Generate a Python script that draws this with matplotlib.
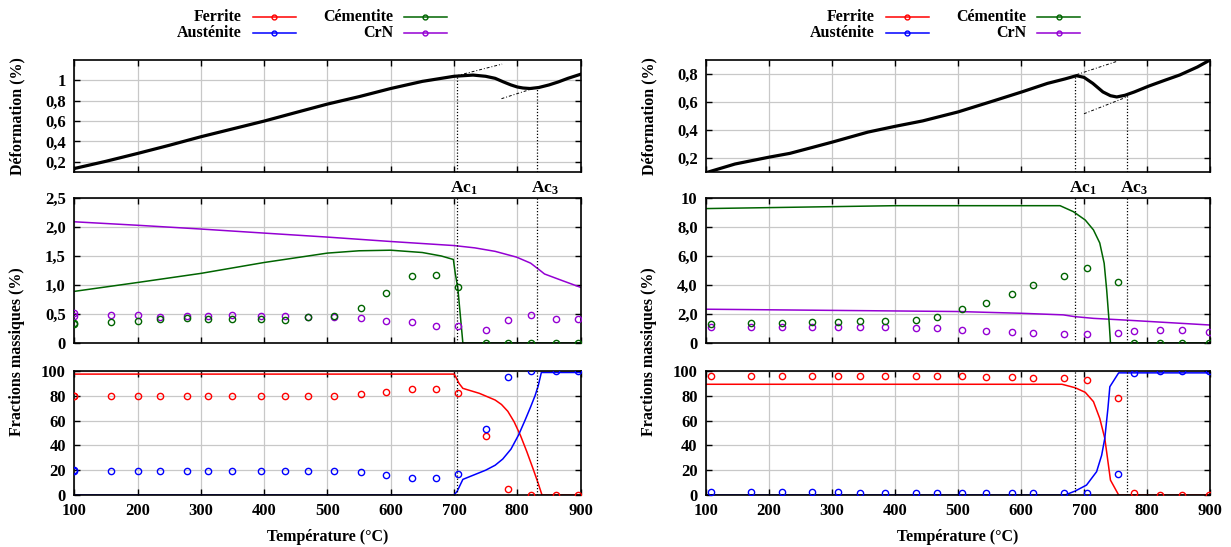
import numpy as np
import matplotlib
matplotlib.use('Agg')
import matplotlib.pyplot as plt
from matplotlib.lines import Line2D

plt.rcParams['font.family'] = 'Liberation Serif'
plt.rcParams['font.weight'] = 'bold'
plt.rcParams['font.size'] = 11.5
plt.rcParams['mathtext.fontset'] = 'custom'
plt.rcParams['mathtext.rm'] = 'Liberation Serif:bold'
plt.rcParams['mathtext.it'] = 'Liberation Serif:bold'
plt.rcParams['mathtext.bf'] = 'Liberation Serif:bold'

RED = '#ff0000'
BLUE = '#0000ff'
GREEN = '#006400'
PURPLE = '#9400d3'

temp_ticks = [100, 200, 300, 400, 500, 600, 700, 800, 900]
temp_labels = ['100', '200', '300', '400', '500', '600', '700', '800', '900']

# ---------- left column ----------
a_ac1 = 704
a_ac3 = 831

a_def_T = [100, 150, 200, 250, 300, 350, 400, 450, 500, 550, 600, 650, 700, 730,
           750, 765, 778, 790, 800, 809, 820, 834, 850, 865, 880, 900]
a_def = [0.134, 0.205, 0.282, 0.362, 0.446, 0.523, 0.600, 0.684, 0.767, 0.840, 0.920,
         0.990, 1.040, 1.052, 1.040, 1.020, 0.985, 0.955, 0.935, 0.925, 0.920, 0.930,
         0.955, 0.985, 1.020, 1.060]
a_tan_up_T = [704, 776]
a_tan_up = [1.045, 1.160]
a_tan_lo_T = [775, 830]
a_tan_lo = [0.820, 0.930]

a_crn_line_T = [100, 200, 300, 400, 500, 600, 700, 733, 765, 799, 821, 835, 843, 870, 900]
a_crn_line = [2.09, 2.03, 1.965, 1.895, 1.826, 1.75, 1.68, 1.64, 1.58, 1.48, 1.377, 1.26,
              1.19, 1.08, 0.96]
a_cem_line_T = [100, 200, 300, 400, 500, 550, 600, 650, 680, 699, 702, 706, 714, 900]
a_cem_line = [0.89, 1.043, 1.2, 1.388, 1.55, 1.59, 1.6, 1.56, 1.50, 1.44, 1.2, 0.95, 0, 0]

a_pts_T = [100, 100, 158, 201, 235, 278, 311, 350, 395, 433, 469, 511, 553, 592, 633,
           671, 707, 750, 786, 821, 861, 896]
a_crn_pts = [0.51, 0.47, 0.49, 0.478, 0.44, 0.467, 0.467, 0.49, 0.467, 0.467, 0.455,
             0.444, 0.438, 0.386, 0.357, 0.294, 0.30, 0.23, 0.40, 0.478, 0.42, 0.41]
a_cem_pts = [0.35, 0.32, 0.357, 0.38, 0.41, 0.43, 0.41, 0.415, 0.415, 0.40, 0.455,
             0.467, 0.605, 0.864, 1.152, 1.17, 0.962, 0, 0, 0, 0, 0]
a_fer_pts = [80, 79.5, 80, 80, 80, 80, 80, 80, 80, 80, 80, 80, 81.2, 83.3, 85.5, 85.5,
             82.2, 47.3, 4.8, 0, 0, 0]
a_aus_pts = [19.6, 19.8, 19.6, 19.6, 19.6, 19.6, 19.6, 19.6, 19.6, 19.6, 19.6, 19.6,
             18.5, 16.1, 13.7, 13.7, 17.2, 53.0, 95.4, 100, 100, 100]

a_fer_line_T = [100, 700, 703, 708, 714, 740, 765, 775, 785, 795, 805, 815, 825, 833,
                839, 900]
a_fer_line = [97.5, 97.5, 95, 90, 86, 82, 76.6, 73, 67.5, 59, 48, 35, 21, 9.4, 0, 0]
a_aus_line_T = [100, 700, 705, 714, 750, 765, 777, 790, 802, 812, 821, 828, 833, 838, 900]
a_aus_line = [0, 0, 3, 12.6, 20, 24, 29, 37, 48.4, 60, 71, 80, 88, 98.8, 98.8]

# ---------- right column ----------
b_ac1 = 686
b_ac3 = 768

b_def_T = [100, 146, 199, 233, 270, 300, 357, 400, 444, 500, 555, 602, 642, 670, 688,
           700, 714, 730, 742, 752, 765, 780, 803, 830, 852, 880, 900]
b_def = [0.095, 0.157, 0.205, 0.233, 0.277, 0.313, 0.385, 0.426, 0.465, 0.529, 0.606,
         0.673, 0.733, 0.765, 0.788, 0.776, 0.733, 0.672, 0.645, 0.636, 0.648, 0.672,
         0.714, 0.758, 0.793, 0.850, 0.900]
b_tan_up_T = [688, 752]
b_tan_up = [0.795, 0.890]
b_tan_lo_T = [700, 768]
b_tan_lo = [0.516, 0.636]

b_cem_line_T = [100, 400, 662, 683, 702, 715, 725, 732, 736, 740, 742, 900]
b_cem_line = [9.27, 9.47, 9.47, 9.06, 8.48, 7.8, 6.9, 5.5, 3.66, 1.38, 0, 0]
b_crn_line_T = [100, 500, 600, 667, 685, 715, 766, 900]
b_crn_line = [2.33, 2.17, 2.05, 1.94, 1.82, 1.70, 1.58, 1.24]

b_pts_T = [108, 171, 221, 268, 309, 345, 384, 433, 466, 507, 544, 586, 619, 668, 705,
           754, 779, 820, 856, 899]
b_cem_pts = [1.31, 1.36, 1.40, 1.47, 1.43, 1.54, 1.54, 1.59, 1.80, 2.32, 2.75, 3.39,
             4.0, 4.64, 5.17, 4.19, 0, 0, 0, 0]
b_crn_pts = [1.13, 1.13, 1.10, 1.10, 1.10, 1.10, 1.10, 1.06, 1.01, 0.90, 0.85, 0.73,
             0.67, 0.63, 0.63, 0.71, 0.85, 0.90, 0.88, 0.74]
b_fer_pts = [95.8, 95.8, 95.8, 95.8, 95.8, 95.8, 95.8, 95.8, 95.8, 95.6, 95.3, 95.0,
             94.5, 94.0, 93.0, 78.5, 1.3, 0, 0, 0]
b_aus_pts = [2.1, 2.1, 2.1, 2.1, 2.1, 1.9, 1.9, 1.7, 1.5, 1.4, 1.4, 1.3, 1.3, 1.5, 2.0,
             17.2, 98.4, 100, 100, 100]

b_fer_line_T = [100, 665, 686, 702, 715, 725, 733, 738, 742, 755, 900]
b_fer_line = [89.3, 89.3, 86.5, 82.8, 75.3, 61.8, 45.7, 27, 12, 0, 0]
b_aus_line_T = [100, 670, 686, 704, 720, 728, 733, 738, 741, 755, 900]
b_aus_line = [0, 0, 3.2, 8, 18.8, 32, 45.7, 70, 87.3, 98.5, 98.5]

# axis ticks / labels
a_def_ticks = [0.2, 0.4, 0.6, 0.8, 1.0]
a_def_labels = ['0,2', '0,4', '0,6', '0,8', '1']
b_def_ticks = [0.2, 0.4, 0.6, 0.8]
b_def_labels = ['0,2', '0,4', '0,6', '0,8']
a_mid_ticks = [0, 0.5, 1.0, 1.5, 2.0, 2.5]
a_mid_labels = ['0', '0,5', '1,0', '1,5', '2,0', '2,5']
b_mid_ticks = [0, 2, 4, 6, 8, 10]
b_mid_labels = ['0', '2,0', '4,0', '6,0', '8,0', '10']
frac_ticks = [0, 20, 40, 60, 80, 100]
frac_labels = ['0', '20', '40', '60', '80', '100']

legend_names = ['Ferrite', 'Austénite', 'Cémentite', 'CrN']
legend_colors = [RED, BLUE, GREEN, PURPLE]

W, H = 1231, 547
fig = plt.figure(figsize=(W / 100, H / 100), dpi=100)


def fx(px):
    return px / W


def fy(py):
    return 1 - py / H


def style(ax, ylim, yticks, ylabels, xlabels=False):
    ax.set_xlim(100, 900)
    ax.set_xticks(temp_ticks, temp_labels)
    ax.set_ylim(*ylim)
    ax.set_yticks(yticks, ylabels)
    ax.grid(True, color='#c8c8c8', lw=0.9)
    ax.set_axisbelow(True)
    ax.tick_params(direction='in', top=True, right=True, length=4, width=1,
                   labelsize=12, pad=6)
    for s in ax.spines.values():
        s.set_linewidth(1.2)
    if not xlabels:
        ax.tick_params(labelbottom=False)


def pts(ax, x, y, c):
    ax.plot(x, y, ls='none', marker='o', mfc='none', mec=c, ms=4.5, mew=1, zorder=4)


def column(x0, w, ac1, ac3, def_T, defo, tu_T, tu, tl_T, tl, def_lim, def_ticks, def_labels,
           cem_T, cem, crn_T, crn, mid_lim, mid_ticks, mid_labels, pT, p_cem, p_crn,
           fer_T, fer, aus_T, aus, p_fer, p_aus, lab_x):
    dot = (0, (1, 1.5))
    ax1 = fig.add_axes([x0, fy(172), w, 112 / H])
    ax2 = fig.add_axes([x0, fy(343), w, 145 / H])
    ax3 = fig.add_axes([x0, fy(495), w, 124 / H])

    # deformation
    style(ax1, def_lim, def_ticks, def_labels)
    ax1.plot(def_T, defo, color='black', lw=2.3, zorder=3)
    ax1.plot(tu_T, tu, color='black', lw=0.7, ls=(0, (3, 2, 1, 2)))
    ax1.plot(tl_T, tl, color='black', lw=0.7, ls=(0, (3, 2, 1, 2)))
    for ac in (ac1, ac3):
        ax1.plot([ac, ac], [def_lim[0], np.interp(ac, def_T, defo)], color='black',
                 lw=0.9, ls=dot)

    # cementite / CrN
    style(ax2, mid_lim, mid_ticks, mid_labels)
    ax2.plot(crn_T, crn, color=PURPLE, lw=1.1)
    ax2.plot(cem_T, cem, color=GREEN, lw=1.1)
    pts(ax2, pT, p_crn, PURPLE)
    pts(ax2, pT, p_cem, GREEN)
    for ac in (ac1, ac3):
        ax2.axvline(ac, color='black', lw=0.9, ls=dot)
        ax2.text(ac + 12, 1.01, r'Ac$_\mathregular{%d}$' % (1 if ac == ac1 else 3),
                 transform=ax2.get_xaxis_transform(), ha='center', va='bottom',
                 fontsize=12.5)

    # ferrite / austenite
    style(ax3, (0, 100), frac_ticks, frac_labels, xlabels=True)
    ax3.plot(fer_T, fer, color=RED, lw=1.1)
    ax3.plot(aus_T, aus, color=BLUE, lw=1.1)
    pts(ax3, pT, p_fer, RED)
    pts(ax3, pT, p_aus, BLUE)
    for ac in (ac1, ac3):
        ax3.axvline(ac, color='black', lw=0.9, ls=dot)

    cx = x0 + w / 2
    fig.text(cx, fy(537), 'Température (°C)', ha='center', va='center', fontsize=11.5)
    fig.text(lab_x, fy(116), 'Déformation (%)', rotation=90, ha='center', va='center',
             fontsize=11.5)
    fig.text(lab_x, fy(352), 'Fractions massiques (%)', rotation=90, ha='center',
             va='center', fontsize=11.5)


def legend(text_x1, text_x2):
    rows = [16.7, 33.3, 16.7, 33.3]
    xs = [text_x1, text_x1, text_x2, text_x2]
    for name, c, tx, ty in zip(legend_names, legend_colors, xs, rows):
        fig.text(fx(tx), fy(ty), name, ha='right', va='center', fontsize=11.5)
        fig.add_artist(Line2D([fx(tx + 11), fx(tx + 54)], [fy(ty), fy(ty)], color=c,
                              lw=1.1, transform=fig.transFigure))
        fig.add_artist(Line2D([fx(tx + 32.5)], [fy(ty)], color=c, marker='o', mfc='none',
                              mec=c, ms=3.5, mew=1, transform=fig.transFigure))


column(fx(74.2), 506.4 / W, a_ac1, a_ac3, a_def_T, a_def, a_tan_up_T, a_tan_up,
       a_tan_lo_T, a_tan_lo, (0.1, 1.2), a_def_ticks, a_def_labels,
       a_cem_line_T, a_cem_line, a_crn_line_T, a_crn_line, (0, 2.5), a_mid_ticks,
       a_mid_labels, a_pts_T, a_cem_pts, a_crn_pts, a_fer_line_T, a_fer_line,
       a_aus_line_T, a_aus_line, a_fer_pts, a_aus_pts, fx(17))
column(fx(706), 504 / W, b_ac1, b_ac3, b_def_T, b_def, b_tan_up_T, b_tan_up,
       b_tan_lo_T, b_tan_lo, (0.1, 0.9), b_def_ticks, b_def_labels,
       b_cem_line_T, b_cem_line, b_crn_line_T, b_crn_line, (0, 10), b_mid_ticks,
       b_mid_labels, b_pts_T, b_cem_pts, b_crn_pts, b_fer_line_T, b_fer_line,
       b_aus_line_T, b_aus_line, b_fer_pts, b_aus_pts, fx(649))

legend(241.7, 392.9)
legend(875, 1026)

fig.savefig('out.png', dpi=100)
